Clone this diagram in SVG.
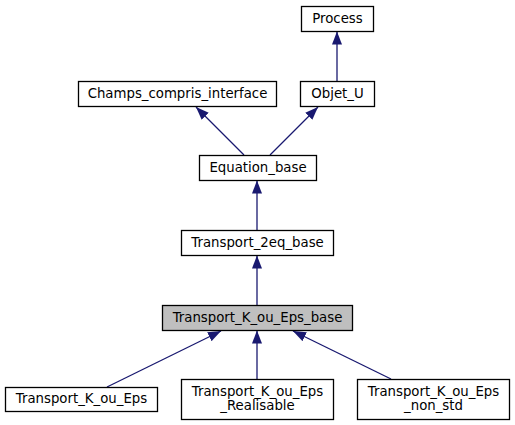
<svg xmlns="http://www.w3.org/2000/svg" width="515" height="425" viewBox="0 0 515 425">
<defs>
<style>
.box{fill:#ffffff;stroke:#000000;stroke-width:1.3}
.hl{fill:#bfbfbf;stroke:#000000;stroke-width:1.3}
text{font-family:"DejaVu Sans","Noto Sans",sans-serif;font-size:13.3px;fill:#000000;text-anchor:middle}
.edge{stroke:#191970;stroke-width:1.3;fill:none}
</style>
<marker id="arr" viewBox="0 0 13 10" refX="13" refY="5" markerWidth="13" markerHeight="10" markerUnits="userSpaceOnUse" orient="auto">
<path d="M0,0 L13,5 L0,10 Z" fill="#191970"/>
</marker>
</defs>
<rect width="515" height="425" fill="#ffffff"/>
<g id="connectors">
<line class="edge" x1="337" y1="81" x2="337" y2="31.5" marker-end="url(#arr)"/>
<line class="edge" x1="244" y1="155" x2="196" y2="107" marker-end="url(#arr)"/>
<line class="edge" x1="270" y1="155" x2="318" y2="107" marker-end="url(#arr)"/>
<line class="edge" x1="257" y1="230" x2="257" y2="180.5" marker-end="url(#arr)"/>
<line class="edge" x1="257" y1="305" x2="257" y2="255.5" marker-end="url(#arr)"/>
<line class="edge" x1="107" y1="387" x2="221" y2="331" marker-end="url(#arr)"/>
<line class="edge" x1="257" y1="379" x2="257" y2="330.5" marker-end="url(#arr)"/>
<line class="edge" x1="391" y1="379" x2="293" y2="331" marker-end="url(#arr)"/>
</g>
<g id="Process"><rect class="box" x="301.5" y="6.5" width="72" height="25"/><text x="337.5" y="23">Process</text></g>
<g id="Champs_compris_interface"><rect class="box" x="78.5" y="81.5" width="198" height="25"/><text x="177.5" y="98">Champs_compris_interface</text></g>
<g id="Objet_U"><rect class="box" x="300.5" y="81.5" width="74" height="25"/><text x="337.5" y="98">Objet_U</text></g>
<g id="Equation_base"><rect class="box" x="199.5" y="155.5" width="117" height="25"/><text x="258" y="172">Equation_base</text></g>
<g id="Transport_2eq_base"><rect class="box" x="181.5" y="230.5" width="152" height="25"/><text x="257.5" y="247">Transport_2eq_base</text></g>
<g id="Transport_K_ou_Eps_base"><rect class="hl" x="162.5" y="305.5" width="190" height="25"/><text x="257.5" y="322">Transport_K_ou_Eps_base</text></g>
<g id="Transport_K_ou_Eps"><rect class="box" x="5.5" y="387.5" width="152" height="24"/><text x="81.5" y="403">Transport_K_ou_Eps</text></g>
<g id="Transport_K_ou_Eps_Realisable"><rect class="box" x="181.5" y="379.5" width="152" height="40"/><text x="257.5" y="395.5">Transport_K_ou_Eps</text><text x="257.5" y="409.5">_Realisable</text></g>
<g id="Transport_K_ou_Eps_non_std"><rect class="box" x="357.5" y="379.5" width="152" height="40"/><text x="433.5" y="395.5">Transport_K_ou_Eps</text><text x="433.5" y="409.5">_non_std</text></g>
</svg>
